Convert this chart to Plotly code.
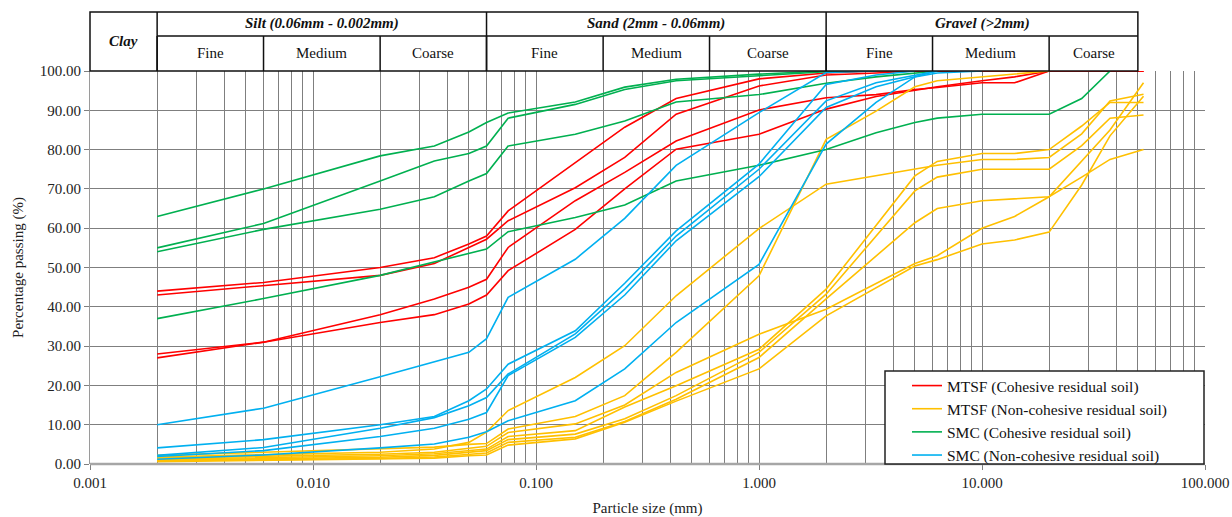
import math
import plotly.graph_objects as go

# ---------------- data ----------------
sieve_mm = [0.002, 0.006, 0.02, 0.035, 0.05, 0.06, 0.075, 0.15, 0.25, 0.425,
            1.0, 2.0, 3.35, 5.0, 6.3, 10.0, 14.0, 20.0, 28.0, 37.5, 53.0]

mtsf_coh = [
    [44, 46.2, 50, 52.5, 56, 58, 64.4, 76.6, 85.7, 93, 98, 99.5, 100, 100, 100, 100, 100, 100, 100, 100, 100],
    [43, 45.3, 48, 51, 55, 57.2, 61.9, 70.3, 78, 89, 96.2, 99, 99.5, 100, 100, 100, 100, 100, 100, 100, 100],
    [28, 31, 38, 42, 45, 47, 55.1, 67, 74.2, 82.2, 90.1, 93.2, 94, 95.3, 95.8, 97, 97, 100, 100, 100, 100],
    [27, 31, 36, 38, 40.7, 43, 49.2, 59.7, 70, 80.1, 83.9, 90.3, 93.5, 95, 96, 97.5, 98.5, 100, 100, 100, 100],
]
mtsf_noncoh = [
    [1.8, 2.4, 3, 3.8, 5.5, 8.1, 13.6, 22, 30.1, 42.8, 59.9, 71.2, None, 75, 76, 77.5, 77.5, 78, 84, 92.4, 94.1],
    [2.2, 3, 3.8, 4.3, 5, 5.2, 8.9, 12.1, 17.4, 28.4, 47.9, 82.6, 89.8, 96, 97.5, 98.5, 99.3, 100, None, None, None],
    [1.2, 1.6, 2.1, 2.6, 3.4, 3.8, 7, 8.5, 14.5, 19.9, 29.2, 44.5, None, 73.3, 77, 79, 79, 80, 86, 92, 92],
    [1, 1.3, 1.7, 2.2, 3, 3.4, 6.2, 7.6, 11.5, 17.4, 28.4, 43.2, None, 69.5, 73, 75, 75, 75, 81, 88, 88.8],
    [0.8, 1.1, 1.4, 1.8, 2.5, 2.8, 5.5, 6.8, 10.8, 16.5, 27.1, 42, None, 61.4, 65, 67, 67.5, 68, 73, 77.5, 80],
    [1.5, 2, 2.5, 3, 4, 4.5, 8, 10.2, 15, 23.3, 33, 39.4, None, 51, 53, 60, 63, 68, 77, 85, 97],
    [0.6, 0.9, 1.2, 1.5, 2.1, 2.3, 4.8, 6.4, 10.6, 16, 24.2, 37.7, None, 50.4, 52, 56, 57, 59, 71, 83.5, 93.6],
]
smc_coh = [
    [63, 70, 78.4, 80.9, 84.5, 86.9, 89.3, 92.1, 95.9, 97.9, 99.2, 100, None, None, None, None, None, None, None, None, None],
    [55, 61.2, 72, 77.1, 79, 80.9, 88, 91.5, 95.3, 97.5, 98.8, 99.8, 100, None, None, None, None, None, None, None, None],
    [54, 59.7, 64.8, 68, 72, 73.9, 80.9, 83.9, 87.3, 92.1, 94, 96.9, 98.5, 99.5, 100, None, None, None, None, None, None],
    [37, 42.1, 48, 51.4, 53.5, 54.7, 59.1, 62.7, 65.9, 72, 76, 80, 84.3, 86.9, 88, 89, 89, 89, 93, 100, None],
]
smc_noncoh = [
    [10, 14.2, 22.2, 26, 28.4, 31.9, 42.4, 52.1, 62.5, 76, 89.4, 99.6, 100, None, None, None, None, None, None, None, None],
    [4.1, 6.2, 10, 12.1, 16.1, 19.1, 25.4, 33.9, 46, 59.3, 76.3, 96.6, 99, 100, None, None, None, None, None, None, None],
    [2.2, 4.2, 9.1, 11.8, 14.8, 16.9, 22.9, 33.1, 44.5, 58, 75, 92.4, 97, 99, 100, None, None, None, None, None, None],
    [1.9, 3.4, 7, 9.1, 11.4, 13.1, 22.5, 32.2, 43, 56.8, 73.1, 90.7, 96, 98.5, 100, None, None, None, None, None, None],
    [1.2, 2.3, 4.1, 5.1, 6.8, 8.2, 11, 16.1, 24.2, 36, 50.8, 81.4, 92, 98.5, 99.5, 100, None, None, None, None, None],
]

series_names = ["MTSF (Cohesive residual soil)", "MTSF (Non-cohesive residual soil)",
                "SMC (Cohesive residual soil)", "SMC (Non-cohesive residual soil)"]
series_colors = ["#FF0000", "#FFC000", "#00B050", "#00B0F0"]
series_data = [mtsf_coh, mtsf_noncoh, smc_coh, smc_noncoh]

x_tick_values = [0.001, 0.01, 0.1, 1, 10, 100]
x_tick_labels = ["0.001", "0.010", "0.100", "1.000", "10.000", "100.000"]

header_groups = ["Clay", "Silt (0.06mm - 0.002mm)", "Sand (2mm - 0.06mm)", "Gravel (>2mm)"]
header_group_bounds = [(0.001, 0.002), (0.002, 0.06), (0.06, 2.0), (2.0, 50.0)]
header_subs = ["Fine", "Medium", "Coarse"] * 3
header_sub_bounds = [(0.002, 0.006), (0.006, 0.02), (0.02, 0.06),
                     (0.06, 0.2), (0.2, 0.6), (0.6, 2.0),
                     (2.0, 6.0), (6.0, 20.0), (20.0, 50.0)]

# ---------------- figure ----------------
W, H = 1232, 517
ML, MR, MT, MB = 90, 27, 71, 53
PW, PH = W - ML - MR, H - MT - MB
LOGMIN, LOGMAX = -3, 2
FONT = "Liberation Serif, Times New Roman, serif"

def px_x(v):
    return (math.log10(v) - LOGMIN) / (LOGMAX - LOGMIN)

fig = go.Figure()
for name, color, curves in zip(series_names, series_colors, series_data):
    for i, ys in enumerate(curves):
        fig.add_trace(go.Scatter(
            x=sieve_mm, y=ys, mode="lines", connectgaps=True,
            line=dict(color=color, width=1.6),
            name=name, legendgroup=name, showlegend=(i == 0),
        ))

# minor grid positions (2..9 x each decade)
minor_vals = []
for e in range(-3, 2):
    for m in range(2, 10):
        minor_vals.append(m * 10 ** e)

grid_col = "#7f7f7f"
fig.update_xaxes(
    type="log", range=[LOGMIN, LOGMAX], automargin=False,
    tickvals=x_tick_values, ticktext=x_tick_labels,
    ticks="outside", ticklen=5, tickcolor=grid_col,
    showgrid=True, gridcolor=grid_col, gridwidth=1,
    minor=dict(tickmode="array", tickvals=minor_vals, showgrid=True,
               gridcolor=grid_col, gridwidth=1, ticks=""),
    showline=False, zeroline=False,
    tickfont=dict(family=FONT, size=15, color="#222"),
    title=dict(text="Particle size (mm)", font=dict(family=FONT, size=15, color="#222"), standoff=12),
)
fig.update_yaxes(
    range=[0, 100], dtick=10, tickformat=".2f", automargin=False,
    ticks="outside", ticklen=5, tickcolor=grid_col,
    showgrid=True, gridcolor=grid_col, gridwidth=1,
    showline=True, linecolor="#9a9a9a", linewidth=1, zeroline=False,
    tickfont=dict(family=FONT, size=15, color="#222"),
    title=dict(text="Percentage passing (%)", font=dict(family=FONT, size=15, color="#222"), standoff=12),
)

shapes = []
annots = []
# bottom axis line
shapes.append(dict(type="line", xref="paper", yref="paper", x0=0, x1=1, y0=0, y1=0,
                   line=dict(color="#a6a6a6", width=2.5), layer="above"))

# header table
y_top = (H - MB - 12) / PH
y_mid = (H - MB - 36) / PH
y_bot = 1.0
lc = dict(color="#111", width=1.5)
x_left = px_x(header_group_bounds[0][0])
x_right = px_x(header_group_bounds[-1][1])
shapes.append(dict(type="rect", xref="paper", yref="paper", x0=x_left, x1=x_right,
                   y0=y_bot, y1=y_top, line=lc))
shapes.append(dict(type="line", xref="paper", yref="paper",
                   x0=px_x(header_group_bounds[1][0]), x1=x_right, y0=y_mid, y1=y_mid, line=lc))
for (a, b) in header_group_bounds[1:]:
    shapes.append(dict(type="line", xref="paper", yref="paper", x0=px_x(a), x1=px_x(a),
                       y0=y_bot, y1=y_top, line=lc))
for (a, b) in header_sub_bounds:
    shapes.append(dict(type="line", xref="paper", yref="paper", x0=px_x(a), x1=px_x(a),
                       y0=y_bot, y1=y_mid, line=lc))
for label, (a, b) in zip(header_groups, header_group_bounds):
    xc = (px_x(a) + px_x(b)) / 2
    if label == "Clay":
        yc = (y_top + y_bot) / 2
    else:
        yc = (y_top + y_mid) / 2
    annots.append(dict(xref="paper", yref="paper", x=xc, y=yc, text="<b><i>%s</i></b>" % label,
                       xanchor="center", yanchor="middle",
                       showarrow=False, font=dict(family=FONT, size=15, color="#111")))
for label, (a, b) in zip(header_subs, header_sub_bounds):
    xc = (px_x(a) + px_x(b)) / 2
    annots.append(dict(xref="paper", yref="paper", x=xc, y=(y_mid + y_bot) / 2, text=label,
                       xanchor="center", yanchor="middle",
                       showarrow=False, font=dict(family=FONT, size=15, color="#111")))

# legend frame
lx0, lx1 = (885 - ML) / PW, (1204 - ML) / PW
ly0, ly1 = (H - MB - 464) / PH, (H - MB - 371) / PH
shapes.append(dict(type="rect", xref="paper", yref="paper", x0=lx0, x1=lx1, y0=ly0, y1=ly1,
                   line=dict(color="#222", width=1.5), fillcolor="white", layer="above"))

fig.update_layout(
    width=W, height=H, margin=dict(l=ML, r=MR, t=MT, b=MB, autoexpand=False),
    paper_bgcolor="white", plot_bgcolor="white",
    shapes=shapes, annotations=annots,
    legend=dict(x=(907 - ML) / PW, y=(H - MB - 369) / PH, xanchor="left", yanchor="top",
                bgcolor="rgba(0,0,0,0)", borderwidth=0,
                font=dict(family=FONT, size=15.5, color="#111"),
                itemwidth=30, tracegroupgap=0),
    showlegend=True,
)

fig.write_html("out.html")
